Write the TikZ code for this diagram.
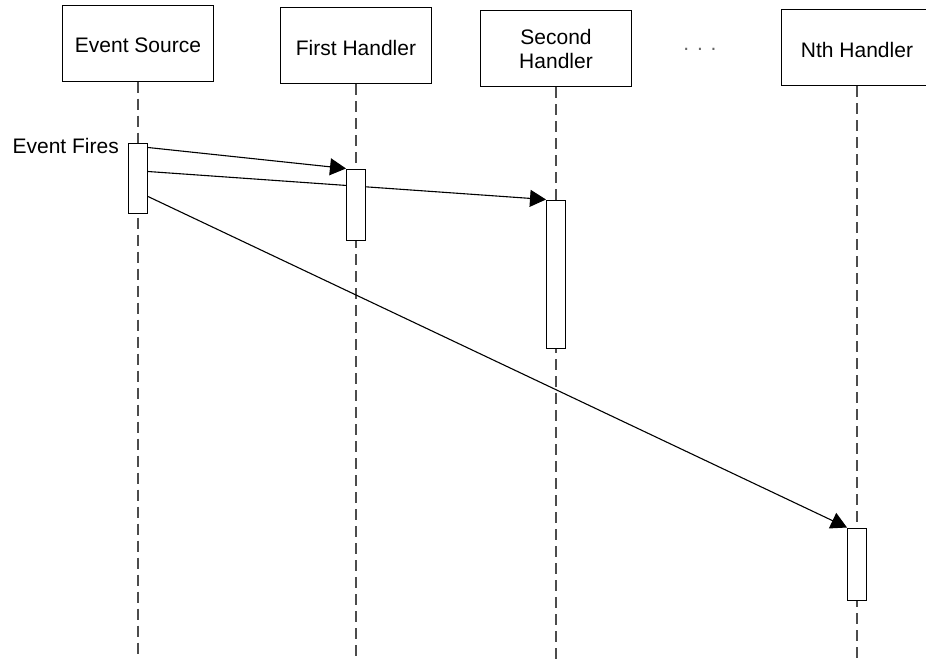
\documentclass[tikz,border=0pt]{standalone}
\usepackage{fontspec}
\setmainfont{Liberation Sans}
\usetikzlibrary{arrows.meta,backgrounds}

\begin{document}
\begin{tikzpicture}[x=1pt, y=-1pt,
		every node/.style={text=black, inner sep=0pt, font=\fontsize{21}{24}\selectfont},
		head/.style={draw, line width=1pt, minimum width=151pt, minimum height=76pt, align=center},
		oneline/.style={text height=19pt, text depth=0pt},
		bar/.style={draw, fill=white, line width=1pt, minimum width=19pt},
		life/.style={black!70, line width=1.3pt, dash pattern=on 11pt off 6pt},
		msg/.style={line width=1.1pt, -{Triangle[length=16pt,width=17pt]}}]
		\useasboundingbox (0,0) rectangle (926,659);
		\node[head, oneline] (src) at (138,43) {Event Source};
		\node[head, oneline] (first) at (356,45.5) {First Handler};
		\node[head] (second) at (556,48.5) {Second\\Handler};
		\node[head, oneline] (nth) at (857,47.5) {Nth Handler};
		\node[anchor=base, text=black!60] (dots) at (700,50) {. . .};
		\node[anchor=east] (fires) at (119,146) {Event Fires};
		\node[bar, minimum height=70pt] (srcbar) at (138,178) {};
		\node[bar, minimum height=71pt] (firstbar) at (356,204.5) {};
		\node[bar, minimum height=148pt] (secondbar) at (556,274) {};
		\node[bar, minimum height=72pt] (nthbar) at (857,564) {};
		\begin{scope}[on background layer]
			\draw[life] (src.south) -- (src.south |- 0,659);
			\draw[life] (first.south) -- (first.south |- 0,659);
			\draw[life] (second.south) -- (second.south |- 0,659);
			\draw[life] (nth.south) -- (nth.south |- 0,659);
			\draw[msg] ([yshift=-5pt]srcbar.north east) -- (firstbar.north west);
			\draw[msg] ([yshift=-29pt]srcbar.north east) -- (secondbar.north west);
			\draw[msg] ([yshift=-54pt]srcbar.north east) -- (nthbar.north west);
		\end{scope}
	\end{tikzpicture}
\end{document}
